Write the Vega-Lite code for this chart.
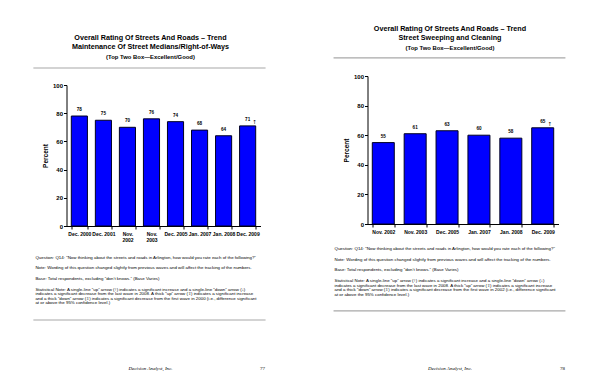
{
  "$schema": "https://vega.github.io/schema/vega-lite/v6.json",
  "background": "white",
  "padding": {"left": 32.5, "top": 0, "right": 0, "bottom": 0},
  "bounds": "flush",
  "spacing": 301,
  "config": {
    "view": {"stroke": null},
    "font": "Liberation Sans",
    "axis": {"domainColor": "#000", "tickColor": "#000", "labelColor": "#000", "titleColor": "#000", "labelFont": "Liberation Sans", "titleFont": "Liberation Sans"},
    "text": {"font": "Liberation Sans", "color": "#000"}
  },
  "datasets": {
    "leftBars": [
      {"period": "Dec. 2000", "value": 78, "arrow": ""},
      {"period": "Dec. 2001", "value": 75, "arrow": ""},
      {"period": "Nov. 2002", "value": 70, "arrow": ""},
      {"period": "Nov. 2003", "value": 76, "arrow": ""},
      {"period": "Dec. 2005", "value": 74, "arrow": ""},
      {"period": "Jan. 2007", "value": 68, "arrow": ""},
      {"period": "Jan. 2008", "value": 64, "arrow": ""},
      {"period": "Dec. 2009", "value": 71, "arrow": "↑"}
    ],
    "rightBars": [
      {"period": "Nov. 2002", "value": 55, "arrow": ""},
      {"period": "Nov. 2003", "value": 61, "arrow": ""},
      {"period": "Dec. 2005", "value": 63, "arrow": ""},
      {"period": "Jan. 2007", "value": 60, "arrow": ""},
      {"period": "Jan. 2008", "value": 58, "arrow": ""},
      {"period": "Dec. 2009", "value": 65, "arrow": "↑"}
    ],
    "headerL": [
      {"line": 1, "role": "title", "text": "Overall Rating Of Streets And Roads – Trend"},
      {"line": 2, "role": "title", "text": "Maintenance Of Street Medians/Right-of-Ways"},
      {"line": 3, "role": "sub", "text": "(Top Two Box—Excellent/Good)"}
    ],
    "headerR": [
      {"line": 1, "role": "title", "text": "Overall Rating Of Streets And Roads – Trend"},
      {"line": 2, "role": "title", "text": "Street Sweeping and Cleaning"},
      {"line": 3, "role": "sub", "text": "(Top Two Box—Excellent/Good)"}
    ],
    "notesL": [
      {"para": 1, "text": "Question:  Q14:  “Now thinking about the streets and roads in Arlington, how would you rate each of the following?”"},
      {"para": 2, "text": "Note: Wording of this question changed slightly from previous waves and will affect the tracking of the numbers."},
      {"para": 3, "text": "Base:  Total respondents, excluding “don’t knows.”  (Base Varies)"},
      {"para": 4, "text": [
        "Statistical Note:  A single-line “up” arrow (↑) indicates a significant increase and a single-line “down” arrow (↓)",
        "indicates a significant decrease from the last wave in 2008.  A thick “up” arrow (⇧) indicates a significant increase",
        "and a thick “down” arrow (⇩) indicates a significant decrease from the first wave in 2000 (i.e., difference significant",
        "at or above the 95% confidence level.)"
      ]}
    ],
    "notesR": [
      {"para": 1, "text": "Question:  Q14:  “Now thinking about the streets and roads in Arlington, how would you rate each of the following?”"},
      {"para": 2, "text": "Note: Wording of this question changed slightly from previous waves and will affect the tracking of the numbers."},
      {"para": 3, "text": "Base:  Total respondents, excluding “don’t knows.”  (Base Varies)"},
      {"para": 4, "text": [
        "Statistical Note:  A single-line “up” arrow (↑) indicates a significant increase and a single-line “down” arrow (↓)",
        "indicates a significant decrease from the last wave in 2008.  A thick “up” arrow (⇧) indicates a significant increase",
        "and a thick “down” arrow (⇩) indicates a significant decrease from the first wave in 2002 (i.e., difference significant",
        "at or above the 95% confidence level.)"
      ]}
    ],
    "footerL": [{"company": "Decision Analyst, Inc.", "page": "77"}],
    "footerR": [{"company": "Decision Analyst, Inc.", "page": "78"}],
    "one": [{}]
  },
  "hconcat": [
    {
      "bounds": "flush",
      "spacing": 0,
      "vconcat": [
        {
          "width": 194, "height": 85,
          "layer": [
            {
              "data": {"name": "headerL"},
              "transform": [{"filter": "datum.role == 'title'"}],
              "mark": {"type": "text", "fontWeight": "bold", "fontSize": 7.2},
              "encoding": {
                "x": {"datum": 0.5, "type": "quantitative", "scale": {"domain": [0.135, 0.978], "nice": false, "zero": false}, "axis": null},
                "y": {"field": "line", "type": "quantitative", "scale": {"domain": [-3, 5.95], "reverse": true, "nice": false, "zero": false}, "axis": null},
                "text": {"field": "text"}
              }
            },
            {
              "data": {"name": "headerL"},
              "transform": [{"filter": "datum.role == 'sub'"}],
              "mark": {"type": "text", "fontWeight": "bold", "fontSize": 5.9},
              "encoding": {
                "x": {"datum": 0.5, "type": "quantitative", "scale": {"domain": [0.135, 0.978], "nice": false, "zero": false}, "axis": null},
                "y": {"field": "line", "type": "quantitative", "scale": {"domain": [-3, 5.95], "reverse": true, "nice": false, "zero": false}, "axis": null},
                "text": {"field": "text"}
              }
            },
            {
              "data": {"name": "one"},
              "mark": {"type": "rule", "color": "#a8a8a8", "strokeWidth": 1.2},
              "encoding": {
                "x": {"datum": -0.009, "type": "quantitative", "scale": {"domain": [0.135, 0.978], "nice": false, "zero": false}, "axis": null},
                "x2": {"datum": 1},
                "y": {"datum": 4.16, "type": "quantitative", "scale": {"domain": [-3, 5.95], "reverse": true, "nice": false, "zero": false}, "axis": null}
              }
            }
          ]
        },
        {
          "width": 194, "height": 141,
          "data": {"name": "leftBars"},
          "encoding": {
            "x": {"field": "period", "type": "nominal", "sort": null,
              "scale": {"paddingInner": 0.33, "paddingOuter": 0.2},
              "axis": {"title": null, "labelAngle": 0, "labelFontSize": 5, "labelFontWeight": "bold", "tickSize": 3, "tickBand": "extent", "labelPadding": 2, "labelLineHeight": 6, "labelOverlap": false,
                "labelExpr": "datum.value == 'Nov. 2002' ? ['Nov.', '2002'] : datum.value == 'Nov. 2003' ? ['Nov.', '2003'] : isValid(datum.value) ? datum.value : ''"}},
            "y": {"field": "value", "type": "quantitative",
              "scale": {"domain": [0, 100]},
              "axis": {"title": "Percent", "values": [0, 20, 40, 60, 80, 100], "grid": false, "tickSize": 3, "labelPadding": 1, "labelFontSize": 6, "labelFontWeight": "bold", "titleFontSize": 6.5, "titleFontWeight": "bold", "titlePadding": 4}}
          },
          "layer": [
            {"mark": {"type": "bar", "color": "#0000ff", "stroke": "#000022", "strokeWidth": 1}},
            {"mark": {"type": "text", "dy": -6, "fontSize": 4.6, "fontWeight": "bold"}, "encoding": {"text": {"field": "value", "type": "quantitative"}}},
            {"mark": {"type": "text", "dy": -4, "dx": 7, "fontSize": 5.5, "font": "DejaVu Sans"}, "encoding": {"text": {"field": "arrow"}}}
          ]
        },
        {
          "width": 194, "height": 162,
          "layer": [
            {
              "data": {"name": "notesL"},
              "mark": {"type": "text", "align": "left", "baseline": "top", "fontSize": 4.4, "lineHeight": 4.6},
              "encoding": {
                "x": {"datum": 0, "type": "quantitative", "scale": {"domain": [0.135, 0.978], "nice": false, "zero": false}, "axis": null},
                "y": {"field": "para", "type": "quantitative", "scale": {"domain": [-1.77, 13.41], "reverse": true, "nice": false, "zero": false}, "axis": null},
                "text": {"field": "text"}
              }
            },
            {
              "data": {"name": "one"},
              "mark": {"type": "rule", "color": "#a8a8a8", "strokeWidth": 1.2},
              "encoding": {
                "x": {"datum": -0.009, "type": "quantitative", "scale": {"domain": [0.135, 0.978], "nice": false, "zero": false}, "axis": null},
                "x2": {"datum": 1},
                "y": {"datum": 7.04, "type": "quantitative", "scale": {"domain": [-1.77, 13.41], "reverse": true, "nice": false, "zero": false}, "axis": null}
              }
            },
            {
              "data": {"name": "footerL"},
              "mark": {"type": "text", "font": "Liberation Serif", "fontStyle": "italic", "fontSize": 5},
              "encoding": {
                "x": {"datum": 0.5, "type": "quantitative", "scale": {"domain": [0.135, 0.978], "nice": false, "zero": false}, "axis": null},
                "y": {"datum": 11.54, "type": "quantitative", "scale": {"domain": [-1.77, 13.41], "reverse": true, "nice": false, "zero": false}, "axis": null},
                "text": {"field": "company"}
              }
            },
            {
              "data": {"name": "footerL"},
              "mark": {"type": "text", "font": "Liberation Serif", "fontSize": 5},
              "encoding": {
                "x": {"datum": 0.987, "type": "quantitative", "scale": {"domain": [0.135, 0.978], "nice": false, "zero": false}, "axis": null},
                "y": {"datum": 11.54, "type": "quantitative", "scale": {"domain": [-1.77, 13.41], "reverse": true, "nice": false, "zero": false}, "axis": null},
                "text": {"field": "page"}
              }
            }
          ]
        }
      ]
    },
    {
      "bounds": "flush",
      "spacing": 0,
      "vconcat": [
        {
          "width": 191, "height": 76,
          "layer": [
            {
              "data": {"name": "headerR"},
              "transform": [{"filter": "datum.role == 'title'"}],
              "mark": {"type": "text", "fontWeight": "bold", "fontSize": 7.2},
              "encoding": {
                "x": {"datum": 0.5, "type": "quantitative", "scale": {"domain": [0.143, 0.970], "nice": false, "zero": false}, "axis": null},
                "y": {"field": "line", "type": "quantitative", "scale": {"domain": [-2.05, 5.95], "reverse": true, "nice": false, "zero": false}, "axis": null},
                "text": {"field": "text"}
              }
            },
            {
              "data": {"name": "headerR"},
              "transform": [{"filter": "datum.role == 'sub'"}],
              "mark": {"type": "text", "fontWeight": "bold", "fontSize": 5.9},
              "encoding": {
                "x": {"datum": 0.5, "type": "quantitative", "scale": {"domain": [0.143, 0.970], "nice": false, "zero": false}, "axis": null},
                "y": {"field": "line", "type": "quantitative", "scale": {"domain": [-2.05, 5.95], "reverse": true, "nice": false, "zero": false}, "axis": null},
                "text": {"field": "text"}
              }
            },
            {
              "data": {"name": "one"},
              "mark": {"type": "rule", "color": "#a8a8a8", "strokeWidth": 1.2},
              "encoding": {
                "x": {"datum": -0.004, "type": "quantitative", "scale": {"domain": [0.143, 0.970], "nice": false, "zero": false}, "axis": null},
                "x2": {"datum": 1},
                "y": {"datum": 4.05, "type": "quantitative", "scale": {"domain": [-2.05, 5.95], "reverse": true, "nice": false, "zero": false}, "axis": null}
              }
            }
          ]
        },
        {
          "width": 191, "height": 148,
          "data": {"name": "rightBars"},
          "encoding": {
            "x": {"field": "period", "type": "nominal", "sort": null,
              "scale": {"paddingInner": 0.31, "paddingOuter": 0.15},
              "axis": {"title": null, "labelAngle": 0, "labelFontSize": 5, "labelFontWeight": "bold", "tickSize": 3, "tickBand": "extent", "labelPadding": 2, "labelOverlap": false}},
            "y": {"field": "value", "type": "quantitative",
              "scale": {"domain": [0, 100]},
              "axis": {"title": "Percent", "values": [0, 20, 40, 60, 80, 100], "grid": false, "tickSize": 3, "labelPadding": 1, "labelFontSize": 6, "labelFontWeight": "bold", "titleFontSize": 6.5, "titleFontWeight": "bold", "titlePadding": 4}}
          },
          "layer": [
            {"mark": {"type": "bar", "color": "#0000ff", "stroke": "#000022", "strokeWidth": 1}},
            {"mark": {"type": "text", "dy": -6, "fontSize": 4.6, "fontWeight": "bold"}, "encoding": {"text": {"field": "value", "type": "quantitative"}}},
            {"mark": {"type": "text", "dy": -4, "dx": 7, "fontSize": 5.5, "font": "DejaVu Sans"}, "encoding": {"text": {"field": "arrow"}}}
          ]
        },
        {
          "width": 191, "height": 164,
          "layer": [
            {
              "data": {"name": "notesR"},
              "mark": {"type": "text", "align": "left", "baseline": "top", "fontSize": 4.4, "lineHeight": 4.6},
              "encoding": {
                "x": {"datum": 0, "type": "quantitative", "scale": {"domain": [0.143, 0.970], "nice": false, "zero": false}, "axis": null},
                "y": {"field": "para", "type": "quantitative", "scale": {"domain": [-1.15, 14.18], "reverse": true, "nice": false, "zero": false}, "axis": null},
                "text": {"field": "text"}
              }
            },
            {
              "data": {"name": "one"},
              "mark": {"type": "rule", "color": "#a8a8a8", "strokeWidth": 1.2},
              "encoding": {
                "x": {"datum": -0.004, "type": "quantitative", "scale": {"domain": [0.143, 0.970], "nice": false, "zero": false}, "axis": null},
                "x2": {"datum": 1},
                "y": {"datum": 6.98, "type": "quantitative", "scale": {"domain": [-1.15, 14.18], "reverse": true, "nice": false, "zero": false}, "axis": null}
              }
            },
            {
              "data": {"name": "footerR"},
              "mark": {"type": "text", "font": "Liberation Serif", "fontStyle": "italic", "fontSize": 5},
              "encoding": {
                "x": {"datum": 0.5, "type": "quantitative", "scale": {"domain": [0.143, 0.970], "nice": false, "zero": false}, "axis": null},
                "y": {"datum": 12.31, "type": "quantitative", "scale": {"domain": [-1.15, 14.18], "reverse": true, "nice": false, "zero": false}, "axis": null},
                "text": {"field": "company"}
              }
            },
            {
              "data": {"name": "footerR"},
              "mark": {"type": "text", "font": "Liberation Serif", "fontSize": 5},
              "encoding": {
                "x": {"datum": 0.987, "type": "quantitative", "scale": {"domain": [0.143, 0.970], "nice": false, "zero": false}, "axis": null},
                "y": {"datum": 12.31, "type": "quantitative", "scale": {"domain": [-1.15, 14.18], "reverse": true, "nice": false, "zero": false}, "axis": null},
                "text": {"field": "page"}
              }
            }
          ]
        }
      ]
    }
  ]
}
